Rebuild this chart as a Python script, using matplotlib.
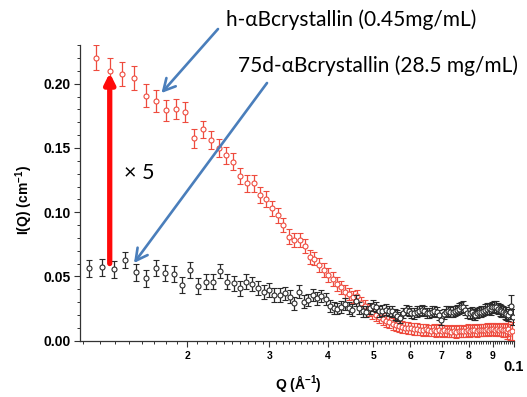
import numpy as np
import matplotlib
matplotlib.use("Agg")
import matplotlib.pyplot as plt
from matplotlib.ticker import FixedLocator, NullFormatter, FixedFormatter

plt.rcParams['font.family'] = ['Liberation Sans', 'DejaVu Sans']
plt.rcParams['mathtext.fontset'] = 'custom'
plt.rcParams['mathtext.rm'] = 'Liberation Sans:bold'
plt.rcParams['mathtext.default'] = 'rm'

# ---------------- data ----------------
q_h = [0.01278, 0.01366, 0.01454, 0.01542, 0.01630, 0.01718, 0.01806, 0.01894, 0.01982, 0.02070,
       0.02158, 0.02246, 0.02334, 0.02422, 0.02510, 0.02598, 0.02686, 0.02774, 0.02862, 0.02950,
       0.03038, 0.03126, 0.03214, 0.03302, 0.03390, 0.03478, 0.03566, 0.03654, 0.03742, 0.03830,
       0.03918, 0.04006, 0.04094, 0.04182, 0.04270, 0.04358, 0.04446, 0.04534, 0.04622, 0.04710,
       0.04798, 0.04886, 0.04974, 0.05062, 0.05150, 0.05238, 0.05326, 0.05414, 0.05502, 0.05590,
       0.05678, 0.05766, 0.05854, 0.05942, 0.06030, 0.06118, 0.06206, 0.06294, 0.06382, 0.06470,
       0.06558, 0.06646, 0.06734, 0.06822, 0.06910, 0.06998, 0.07086, 0.07174, 0.07262, 0.07350,
       0.07438, 0.07526, 0.07614, 0.07702, 0.07790, 0.07878, 0.07966, 0.08054, 0.08142, 0.08230,
       0.08318, 0.08406, 0.08494, 0.08582, 0.08670, 0.08758, 0.08846, 0.08934, 0.09022, 0.09110,
       0.09198, 0.09286, 0.09374, 0.09462, 0.09550, 0.09638, 0.09726, 0.09814, 0.09902]
i_h = [0.2204, 0.2103, 0.2076, 0.2045, 0.1908, 0.1866, 0.1794, 0.1802, 0.1781, 0.1574,
       0.1644, 0.1561, 0.1500, 0.1444, 0.1392, 0.1281, 0.1224, 0.1224, 0.1133, 0.1104,
       0.1030, 0.0977, 0.0900, 0.0809, 0.0783, 0.0783, 0.0736, 0.0653, 0.0639, 0.0589,
       0.0550, 0.0511, 0.0480, 0.0441, 0.0414, 0.0381, 0.0363, 0.0340, 0.0345, 0.0293,
       0.0270, 0.0239, 0.0215, 0.0200, 0.0184, 0.0169, 0.0153, 0.0142, 0.0130, 0.0122,
       0.0115, 0.0108, 0.0102, 0.0098, 0.0095, 0.0089, 0.0092, 0.0086, 0.0082, 0.0088,
       0.0080, 0.0078, 0.0084, 0.0076, 0.0081, 0.0074, 0.0079, 0.0072, 0.0077, 0.0070,
       0.0075, 0.0068, 0.0073, 0.0078, 0.0071, 0.0076, 0.0080, 0.0074, 0.0079, 0.0083,
       0.0077, 0.0082, 0.0086, 0.0080, 0.0085, 0.0089, 0.0083, 0.0088, 0.0092, 0.0086,
       0.0090, 0.0084, 0.0088, 0.0079, 0.0085, 0.0072, 0.0094, 0.0068, 0.0078]
e_h = [0.0100, 0.0098, 0.0096, 0.0094, 0.0090, 0.0086, 0.0082, 0.0078, 0.0075, 0.0072,
       0.0070, 0.0069, 0.0068, 0.0067, 0.0066, 0.0065, 0.0064, 0.0063, 0.0062, 0.0061,
       0.0060, 0.0059, 0.0058, 0.0057, 0.0056, 0.0055, 0.0055, 0.0054, 0.0054, 0.0053,
       0.0053, 0.0052, 0.0052, 0.0051, 0.0051, 0.0050, 0.0050, 0.0050, 0.0049, 0.0049,
       0.0049, 0.0048, 0.0048, 0.0048, 0.0047, 0.0047, 0.0047, 0.0047, 0.0046, 0.0046,
       0.0046, 0.0046, 0.0046, 0.0045, 0.0045, 0.0045, 0.0045, 0.0045, 0.0045, 0.0045,
       0.0045, 0.0045, 0.0045, 0.0045, 0.0045, 0.0045, 0.0045, 0.0045, 0.0045, 0.0045,
       0.0046, 0.0046, 0.0046, 0.0046, 0.0046, 0.0046, 0.0046, 0.0046, 0.0046, 0.0046,
       0.0047, 0.0047, 0.0047, 0.0047, 0.0047, 0.0047, 0.0047, 0.0047, 0.0047, 0.0047,
       0.0048, 0.0049, 0.0050, 0.0052, 0.0054, 0.0056, 0.0060, 0.0065, 0.0070]

q_75 = [0.01233, 0.01313, 0.01393, 0.01473, 0.01553, 0.01633, 0.01713, 0.01793, 0.01873, 0.01953,
        0.02033, 0.02113, 0.02193, 0.02273, 0.02353, 0.02433, 0.02513, 0.02593, 0.02673, 0.02753,
        0.02833, 0.02913, 0.02993, 0.03073, 0.03153, 0.03233, 0.03313, 0.03393, 0.03473, 0.03553,
        0.03633, 0.03713, 0.03793, 0.03873, 0.03953, 0.04033, 0.04113, 0.04193, 0.04273, 0.04353,
        0.04433, 0.04513, 0.04593, 0.04673, 0.04753, 0.04833, 0.04913, 0.04993, 0.05073, 0.05153,
        0.05233, 0.05313, 0.05393, 0.05473, 0.05553, 0.05633, 0.05713, 0.05793, 0.05873, 0.05953,
        0.06033, 0.06113, 0.06193, 0.06273, 0.06353, 0.06433, 0.06513, 0.06593, 0.06673, 0.06753,
        0.06833, 0.06913, 0.06993, 0.07073, 0.07153, 0.07233, 0.07313, 0.07393, 0.07473, 0.07553,
        0.07633, 0.07713, 0.07793, 0.07873, 0.07953, 0.08033, 0.08113, 0.08193, 0.08273, 0.08353,
        0.08433, 0.08513, 0.08593, 0.08673, 0.08753, 0.08833, 0.08913, 0.08993, 0.09073, 0.09153,
        0.09233, 0.09313, 0.09393, 0.09473, 0.09553, 0.09633, 0.09713, 0.09793, 0.09873, 0.09953]
i_75 = [0.0563, 0.0571, 0.0555, 0.0628, 0.0532, 0.0485, 0.0563, 0.0529, 0.0519, 0.0433,
        0.0550, 0.0425, 0.0459, 0.0459, 0.0542, 0.0459, 0.0446, 0.0407, 0.0459, 0.0441,
        0.0407, 0.0381, 0.0394, 0.0355, 0.0355, 0.0369, 0.0342, 0.0291, 0.0381, 0.0303,
        0.0316, 0.0355, 0.0330, 0.0345, 0.0325, 0.0268, 0.0252, 0.0250, 0.0262, 0.0285,
        0.0255, 0.0240, 0.0310, 0.0255, 0.0228, 0.0225, 0.0252, 0.0270, 0.0262, 0.0228,
        0.0232, 0.0240, 0.0230, 0.0228, 0.0205, 0.0195, 0.0178, 0.0215, 0.0238, 0.0230,
        0.0215, 0.0212, 0.0226, 0.0230, 0.0238, 0.0232, 0.0214, 0.0213, 0.0226, 0.0228,
        0.0220, 0.0200, 0.0162, 0.0210, 0.0226, 0.0230, 0.0222, 0.0226, 0.0230, 0.0240,
        0.0250, 0.0258, 0.0265, 0.0240, 0.0215, 0.0212, 0.0220, 0.0205, 0.0200, 0.0215,
        0.0222, 0.0226, 0.0230, 0.0240, 0.0248, 0.0252, 0.0245, 0.0258, 0.0265, 0.0262,
        0.0250, 0.0238, 0.0228, 0.0226, 0.0218, 0.0210, 0.0200, 0.0225, 0.0270, 0.0185]
e_75 = [0.0066, 0.0066, 0.0065, 0.0065, 0.0064, 0.0064, 0.0063, 0.0063, 0.0062, 0.0062,
        0.0061, 0.0060, 0.0060, 0.0059, 0.0058, 0.0058, 0.0057, 0.0056, 0.0056, 0.0055,
        0.0055, 0.0054, 0.0054, 0.0053, 0.0053, 0.0052, 0.0052, 0.0051, 0.0051, 0.0050,
        0.0050, 0.0049, 0.0049, 0.0048, 0.0048, 0.0047, 0.0047, 0.0046, 0.0046, 0.0045,
        0.0045, 0.0045, 0.0044, 0.0044, 0.0044, 0.0043, 0.0043, 0.0043, 0.0042, 0.0042,
        0.0042, 0.0042, 0.0041, 0.0041, 0.0041, 0.0041, 0.0041, 0.0040, 0.0040, 0.0040,
        0.0040, 0.0040, 0.0040, 0.0040, 0.0040, 0.0040, 0.0040, 0.0040, 0.0040, 0.0040,
        0.0040, 0.0040, 0.0040, 0.0040, 0.0040, 0.0040, 0.0040, 0.0040, 0.0040, 0.0040,
        0.0041, 0.0041, 0.0041, 0.0041, 0.0041, 0.0041, 0.0041, 0.0041, 0.0041, 0.0041,
        0.0042, 0.0042, 0.0042, 0.0042, 0.0042, 0.0043, 0.0043, 0.0043, 0.0044, 0.0044,
        0.0045, 0.0045, 0.0046, 0.0046, 0.0047, 0.0048, 0.0050, 0.0055, 0.0085, 0.0060]

xtick_vals = [0.02, 0.03, 0.04, 0.05, 0.06, 0.07, 0.08, 0.09, 0.1]
xtick_labels = ['2', '3', '4', '5', '6', '7', '8', '9', '']
ytick_vals = [0.00, 0.05, 0.10, 0.15, 0.20]

label_h = 'h-\u03b1Bcrystallin (0.45mg/mL)'
label_75 = '75d-\u03b1Bcrystallin (28.5 mg/mL)'

RED = '#EE4B3E'
BLK = '#2A2A2A'
BLUE = '#4A7EBB'

# ---------------- figure ----------------
W, H = 527, 397
fig = plt.figure(figsize=(W / 100, H / 100), dpi=100)
ax = fig.add_axes([80 / W, 1 - 341 / H, (514 - 80) / W, (341 - 45) / H])

common = dict(fmt='o', ms=3.6, mew=0.8, mfc='white', elinewidth=0.9,
              capsize=2.4, capthick=0.9)
ax.errorbar(q_h, i_h, yerr=e_h, color=RED, mec=RED, ecolor=RED, zorder=3, **common)
ax.errorbar(q_75, i_75, yerr=e_75, color=BLK, mec=BLK, ecolor=BLK, zorder=4, **common)

ax.set_xscale('log')
ax.set_xlim(0.0118, 0.1)
ax.set_ylim(-0.0003, 0.2302)

ax.xaxis.set_major_locator(FixedLocator(xtick_vals))
ax.xaxis.set_major_formatter(FixedFormatter(xtick_labels))
minor_x = [v / 1000 for v in range(12, 100) if v % 10 != 0]
ax.xaxis.set_minor_locator(FixedLocator(minor_x))
ax.xaxis.set_minor_formatter(NullFormatter())

ax.yaxis.set_major_locator(FixedLocator(ytick_vals))
ax.set_yticklabels(['%.2f' % v for v in ytick_vals])
ax.yaxis.set_minor_locator(FixedLocator([v / 100 for v in range(0, 24) if v % 5 != 0]))

for s in ['top', 'right']:
    ax.spines[s].set_visible(False)
for s in ['left', 'bottom']:
    ax.spines[s].set_linewidth(0.9)
    ax.spines[s].set_color('#333333')

ax.tick_params(axis='both', which='major', direction='out', length=4, width=0.8, colors='#333333')
ax.tick_params(axis='both', which='minor', direction='out', length=2.2, width=0.7, colors='#333333')
ax.tick_params(axis='x', which='major', labelsize=7.5, pad=3, labelcolor='black')
ax.tick_params(axis='y', which='major', labelsize=10, pad=3, labelcolor='black')
for t in ax.get_xticklabels() + ax.get_yticklabels():
    t.set_fontweight('bold')

# "0.1" label, placed lower and larger
fig.text(514 / W, 1 - 367 / H, '0.1', fontsize=10.5, fontweight='bold', ha='center', va='center')

# axis titles
fig.text(298 / W, 1 - 384 / H, 'Q (\u00c5$^{-1}$)', fontsize=10, fontweight='bold',
         ha='center', va='center')
fig.text(24 / W, 1 - 200 / H, 'I(Q) (cm$^{-1}$)', fontsize=10, fontweight='bold',
         ha='center', va='center', rotation=90)

# annotations
ann_font = ['Lato', 'DejaVu Sans']
fig.text(226 / W, 1 - 20 / H, label_h, fontsize=15, family=ann_font, ha='left', va='center')
fig.text(238 / W, 1 - 66 / H, label_75, fontsize=15, family=ann_font, ha='left', va='center')
ax.text(0.01462, 0.1304, '\u00d7 5', fontsize=15.5, family=ann_font, ha='left', va='center',
        transform=ax.transData)

# red x5 arrow
ax.annotate('', xy=(0.01366, 0.2085), xytext=(0.01366, 0.0600), xycoords='data',
            arrowprops=dict(arrowstyle='-|>', color='#FF0A0A', lw=3.8, mutation_scale=15,
                            shrinkA=0, shrinkB=0), zorder=5)

# blue arrows (figure pixel coordinates)
def fp(x, y):
    return (x, H - y)

ax.annotate('', xy=fp(161.5, 93), xytext=fp(218, 29), xycoords='figure pixels',
            textcoords='figure pixels', annotation_clip=False,
            arrowprops=dict(arrowstyle='->,head_length=0.6,head_width=0.32', color=BLUE,
                            lw=1.9, mutation_scale=14, shrinkA=0, shrinkB=0), zorder=6)
ax.annotate('', xy=fp(134, 263), xytext=fp(267, 83), xycoords='figure pixels',
            textcoords='figure pixels', annotation_clip=False,
            arrowprops=dict(arrowstyle='->,head_length=0.6,head_width=0.32', color=BLUE,
                            lw=1.9, mutation_scale=14, shrinkA=0, shrinkB=0), zorder=6)

fig.savefig('out.png', dpi=100)
